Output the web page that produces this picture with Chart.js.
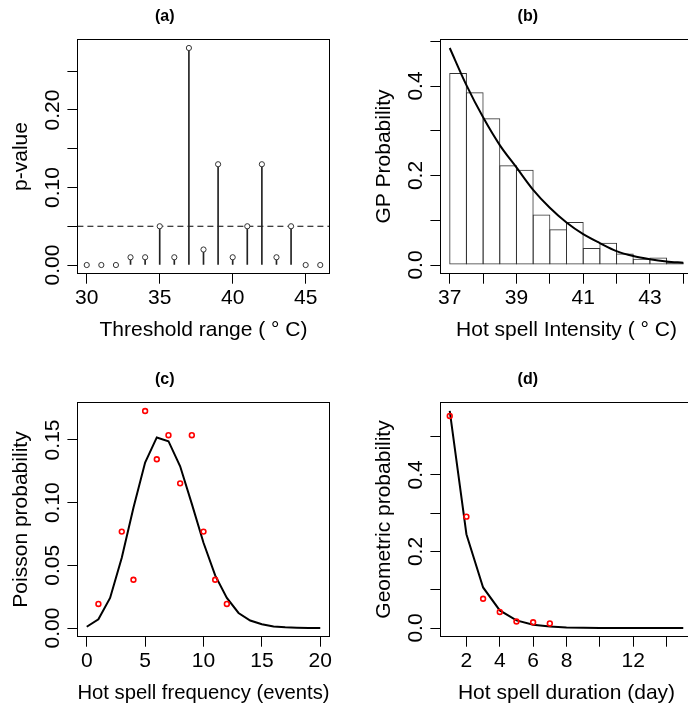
<!DOCTYPE html>
<html><head><meta charset="utf-8">
<script src="https://cdn.jsdelivr.net/npm/chart.js@4/dist/chart.umd.min.js"></script>
<style>
html,body{margin:0;padding:0;background:#fff;overflow:hidden;width:688px;height:710px;position:relative;}
canvas{position:absolute;}
</style></head><body>
<canvas id="ca" width="407" height="355" style="left:0px;top:0px"></canvas>
<canvas id="cb" width="407" height="355" style="left:363px;top:0px"></canvas>
<canvas id="cc" width="407" height="355" style="left:0px;top:363px"></canvas>
<canvas id="cd" width="407" height="355" style="left:363px;top:363px"></canvas>
<script>
// ---------- (a) p-value vs threshold ----------
const aThreshold = [30,31,32,33,34,35,36,37,38,39,40,41,42,43,44,45,46];
const aPValue    = [0,0,0,0.01,0.01,0.05,0.01,0.28,0.02,0.13,0.01,0.05,0.13,0.01,0.05,0,0];
const aCutoff    = 0.05;
const aXTicks = [30,35,40,45];
const aXLabels = ['30','35','40','45'];
const aYTicks = [0,0.05,0.10,0.15,0.20,0.25];
const aYLabels = ['0.00','','0.10','','0.20',''];

// ---------- (b) GP histogram + fitted density ----------
const bBinMid  = [37.25,37.75,38.25,38.75,39.25,39.75,40.25,40.75,41.25,41.75,42.25,42.75,43.25,43.75];
const bDensity = [0.429,0.386,0.328,0.223,0.213,0.113,0.080,0.096,0.038,0.050,0.026,0.014,0.017,0.006];
const bCurveX  = [37,37.5,38,38.5,39,39.5,40,40.5,41,41.5,42,42.5,43,43.5,44];
const bCurveY  = [0.485,0.402,0.330,0.268,0.218,0.168,0.128,0.095,0.069,0.049,0.031,0.020,0.013,0.008,0.005];
const bXTicks = [37,38,39,40,41,42,43,44];
const bXLabels = ['37','','39','','41','','43',''];
const bYTicks = [0,0.1,0.2,0.3,0.4,0.5];
const bYLabels = ['0.0','','0.2','','0.4',''];

// ---------- (c) Poisson ----------
const cEvents   = [1,3,4,5,6,7,8,9,10,11,12];
const cObserved = [0.0192,0.0769,0.0385,0.1731,0.1346,0.1538,0.1154,0.1538,0.0769,0.0385,0.0192];
const cFitX     = [0,1,2,3,4,5,6,7,8,9,10,11,12,13,14,15,16,17,18,19,20];
const cPoisson  = [0.001,0.007,0.024,0.056,0.096,0.132,0.152,0.149,0.129,0.099,0.068,0.042,0.024,0.012,0.006,0.003,0.0013,0.0006,0.0003,0.0001,0.0001];
const cXTicks = [0,5,10,15,20];
const cXLabels = ['0','5','10','15','20'];
const cYTicks = [0,0.05,0.10,0.15];
const cYLabels = ['0.00','0.05','0.10','0.15'];

// ---------- (d) Geometric ----------
const dDuration = [1,2,3,4,5,6,7];
const dObserved = [0.554,0.291,0.0765,0.042,0.017,0.015,0.012];
const dFitX     = [1,2,3,4,5,6,7,8,9,10,11,12,13,14,15];
const dGeom     = [0.567,0.245,0.106,0.046,0.020,0.0086,0.0037,0.0016,0.0007,0.0003,0.0001,0.0001,0,0,0];
const dXTicks = [2,4,6,8,10,12,14];
const dXLabels = ['2','4','6','8','','12',''];
const dYTicks = [0,0.1,0.2,0.3,0.4,0.5];
const dYLabels = ['0.0','','0.2','','0.4',''];

Chart.defaults.font.family = '"Liberation Sans", Arial, Helvetica, sans-serif';
Chart.defaults.color = '#000';
Chart.defaults.animation = false;

function pad4(lo, hi){ const p = (hi-lo)*0.04; return [lo-p, hi+p]; }
function xy(xs, ys){ return xs.map((x,i)=>({x:x, y:ys[i]})); }

const boxPlugin = {
  id: 'box',
  afterDraw(chart){
    const a = chart.chartArea, ctx = chart.ctx;
    ctx.save();
    ctx.strokeStyle = '#000'; ctx.lineWidth = 1;
    const l = Math.round(a.left)+0.5, t = Math.round(a.top)+0.5;
    const r = Math.round(a.right)-0.5, b = Math.round(a.bottom)-0.5;
    ctx.strokeRect(l, t, r-l, b-t);
    ctx.restore();
  }
};

const AXW = 77.4, AXH = 81.3;

function makePanel(id, type, title, xTitle, yTitle, xr, yr, xT, xL, yT, yL, yPad, datasets){
  const gridOpt = { drawOnChartArea:false, drawTicks:true, tickLength:10, color:'#000', lineWidth:1, offset:false };
  return new Chart(document.getElementById(id), {
    type: type,
    data: { datasets: datasets },
    options: {
      responsive:false, maintainAspectRatio:false, devicePixelRatio:1,
      layout: { padding: { left:0, right:AXW, top:0, bottom:0 } },
      plugins: {
        legend: { display:false },
        tooltip: { enabled:false },
        title: { display:true, text:title, font:{ size:16, weight:'bold' }, color:'#000', padding:{ top:7.4, bottom:12.7 } }
      },
      scales: {
        x: {
          type:'linear', min:xr[0], max:xr[1], offset:false, bounds:'data',
          afterBuildTicks: ax => { ax.ticks = xT.map(v=>({value:v})); },
          ticks: { autoSkip:false, minRotation:0, maxRotation:0, padding:2.4, font:{ size:21 }, color:'#000',
                   callback: (v,i) => xL[i] },
          grid: gridOpt,
          border: { display:false },
          title: { display:true, text:xTitle, font:{ size:21 }, color:'#000', padding:{ top:0, bottom:12.4 } },
          afterFit: s => { s.height = AXH; }
        },
        y: {
          type:'linear', min:yr[0], max:yr[1], bounds:'data',
          afterBuildTicks: ax => { ax.ticks = yT.map(v=>({value:v})); },
          ticks: { autoSkip:false, minRotation:90, maxRotation:90, crossAlign:'center', padding:yPad, font:{ size:21 }, color:'#000',
                   callback: (v,i) => yL[i] },
          grid: gridOpt,
          border: { display:false },
          title: { display:true, text:yTitle, font:{ size:21 }, color:'#000', padding:{ top:9.1, bottom:0 } },
          afterFit: s => { s.width = AXW; }
        }
      }
    },
    plugins: [boxPlugin]
  });
}

// (a)
const aXr = pad4(Math.min(...aThreshold), Math.max(...aThreshold));
const aYr = pad4(0, Math.max(...aPValue));
makePanel('ca', 'bar', '(a)', 'Threshold range ( \u00B0 C)', 'p-value', aXr, aYr, aXTicks, aXLabels, aYTicks, aYLabels, -6.4, [
  { type:'line', showLine:false, data: xy(aThreshold, aPValue), pointStyle:'circle', pointRadius:2.6,
    pointBorderColor:'#333', pointBackgroundColor:'#fff', pointBorderWidth:1, order:0 },
  { type:'bar', data: xy(aThreshold, aPValue), backgroundColor:'#222', borderWidth:0, barThickness:1, order:1 },
  { type:'line', data: [{x:aXr[0], y:aCutoff},{x:aXr[1], y:aCutoff}], borderColor:'#000', borderWidth:1,
    borderDash:[6,4], pointRadius:0, order:2 }
]);

// (b)
const bXr = pad4(Math.min(...bCurveX), Math.max(...bCurveX));
const bYr = pad4(0, Math.max(...bCurveY, ...bDensity));
makePanel('cb', 'bar', '(b)', 'Hot spell Intensity ( \u00B0 C)', 'GP Probability', bXr, bYr, bXTicks, bXLabels, bYTicks, bYLabels, -0.6, [
  { type:'line', data: xy(bCurveX, bCurveY), borderColor:'#000', borderWidth:2, pointRadius:0,
    cubicInterpolationMode:'monotone', order:0 },
  { type:'bar', data: xy(bBinMid, bDensity), backgroundColor:'rgba(0,0,0,0)', borderColor:'#333', borderWidth:1,
    borderSkipped:false, barPercentage:1.06, categoryPercentage:1, inflateAmount:0, order:1 }
]);

// (c)
const cXr = pad4(Math.min(...cFitX), Math.max(...cFitX));
const cYr = pad4(0, Math.max(...cObserved, ...cPoisson));
makePanel('cc', 'line', '(c)', 'Hot spell frequency (events)', 'Poisson probability', cXr, cYr, cXTicks, cXLabels, cYTicks, cYLabels, -6.4, [
  { type:'line', showLine:false, data: xy(cEvents, cObserved), pointStyle:'circle', pointRadius:2.4,
    pointBorderColor:'#ff0000', pointBackgroundColor:'rgba(0,0,0,0)', pointBorderWidth:1.6, order:0 },
  { type:'line', data: xy(cFitX, cPoisson), borderColor:'#000', borderWidth:2, pointRadius:0, tension:0, order:1 }
]);

// (d)
const dXr = pad4(Math.min(...dFitX), Math.max(...dFitX));
const dYr = pad4(0, Math.max(...dObserved, ...dGeom));
makePanel('cd', 'line', '(d)', 'Hot spell duration (day)', 'Geometric probability', dXr, dYr, dXTicks, dXLabels, dYTicks, dYLabels, -0.6, [
  { type:'line', showLine:false, data: xy(dDuration, dObserved), pointStyle:'circle', pointRadius:2.4,
    pointBorderColor:'#ff0000', pointBackgroundColor:'rgba(0,0,0,0)', pointBorderWidth:1.6, order:0 },
  { type:'line', data: xy(dFitX, dGeom), borderColor:'#000', borderWidth:2, pointRadius:0, tension:0, order:1 }
]);
</script>
</body></html>
